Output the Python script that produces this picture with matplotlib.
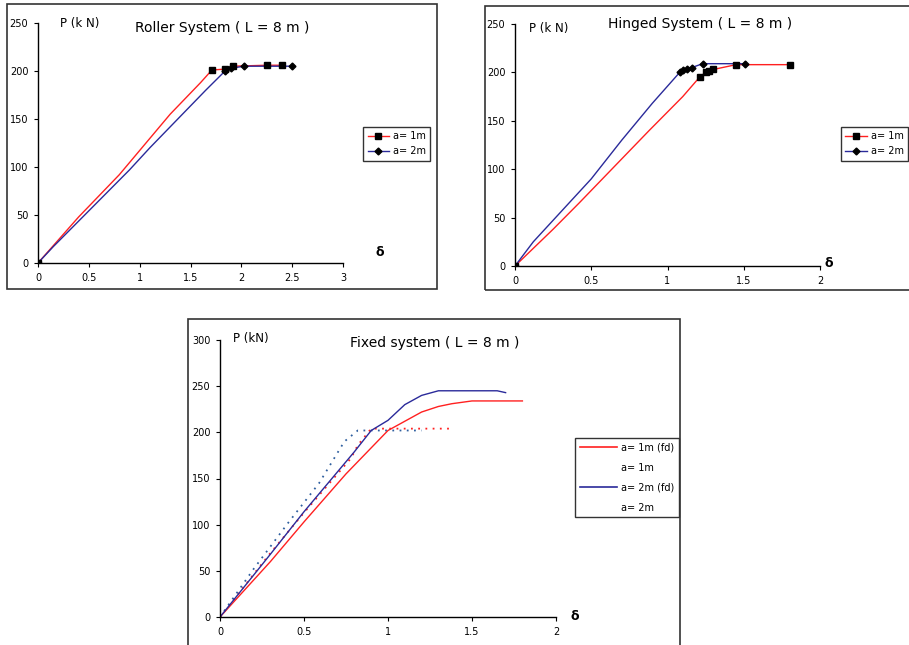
import matplotlib.pyplot as plt
from matplotlib.lines import Line2D
from matplotlib.patches import Rectangle

# ---------------------------------------------------------------------------
# Data (delta, P in kN)
# ---------------------------------------------------------------------------

# Roller system
roller_a1_d = [0, 0.15, 0.4, 0.8, 1.3, 1.6, 1.71, 1.84, 1.92, 2.25, 2.40]
roller_a1_p = [0, 18, 48, 92, 155, 188, 201, 202, 205, 206, 206]
roller_a1_mark = [0, 6, 7, 8, 9, 10]
roller_a2_d = [0, 0.15, 0.6, 0.9, 1.1, 1.65, 1.84, 1.90, 2.03, 2.50]
roller_a2_p = [0, 17, 65, 97, 120, 180, 200, 203, 205, 205]
roller_a2_mark = [0, 6, 7, 8, 9]

# Hinged system
hinged_a1_d = [0, 0.25, 0.42, 0.88, 1.10, 1.21, 1.25, 1.27, 1.30, 1.45, 1.80]
hinged_a1_p = [0, 38, 65, 140, 175, 195, 200, 201, 203, 208, 208]
hinged_a1_mark = [0, 5, 6, 7, 8, 9, 10]
hinged_a2_d = [0, 0.12, 0.5, 0.7, 0.9, 1.08, 1.10, 1.13, 1.16, 1.23, 1.51]
hinged_a2_p = [0, 25, 90, 130, 168, 200, 202, 204, 205, 209, 209]
hinged_a2_mark = [0, 5, 6, 7, 8, 9, 10]

# Fixed system
fixed_a1_fd_d = [0, 0.3, 0.5, 0.75, 1.0, 1.1, 1.2, 1.3, 1.38, 1.5, 1.8]
fixed_a1_fd_p = [0, 60, 103, 155, 202, 212, 222, 228, 231, 234, 234]
fixed_a2_fd_d = [0, 0.3, 0.5, 0.8, 0.9, 1.0, 1.1, 1.2, 1.3, 1.65, 1.7]
fixed_a2_fd_p = [0, 68, 114, 179, 202, 213, 230, 240, 245, 245, 243]
fixed_a1_d = [0, 0.29, 0.5, 0.78, 0.82, 0.9, 1.38]
fixed_a1_p = [0, 67, 113, 172, 186, 204, 204]
fixed_a2_d = [0, 0.2, 0.41, 0.59, 0.74, 0.82, 1.2]
fixed_a2_p = [0, 52, 103, 145, 190, 202, 202]

RED = "#ff2020"
BLUE = "#2a2a9a"

W, H = 909, 645


def px_axes(fig, left, top, right, bottom):
    return fig.add_axes([left / W, 1 - bottom / H, (right - left) / W, (bottom - top) / H])


def frame(fig, left, top, right, bottom):
    fig.patches.append(Rectangle((left / W, 1 - bottom / H), (right - left) / W,
                                 (bottom - top) / H, transform=fig.transFigure,
                                 fill=False, edgecolor="#333333", linewidth=1.2))


def style_axes(ax, xmax, xticks, ymax, yticks, xlabels):
    ax.set_xlim(0, xmax)
    ax.set_ylim(0, ymax)
    ax.set_xticks(xticks)
    ax.set_xticklabels(xlabels)
    ax.set_yticks(yticks)
    for s in ["top", "right"]:
        ax.spines[s].set_visible(False)
    for s in ["left", "bottom"]:
        ax.spines[s].set_linewidth(1.0)
    ax.tick_params(direction="out", length=3, width=0.8, labelsize=7, pad=4)
    ax.patch.set_alpha(0)


def plot_marked(ax, d, p, idx, color, marker, ms):
    ax.plot(d, p, color=color, linewidth=1.0, zorder=2)
    ax.plot([d[i] for i in idx], [p[i] for i in idx], linestyle="none",
            marker=marker, color="black", markersize=ms, zorder=3)


def boxed_legend(ax, handles, labels, anchor, **kw):
    leg = ax.legend(handles, labels, loc="upper left", bbox_to_anchor=anchor,
                    borderaxespad=0, fontsize=7, frameon=True, fancybox=False,
                    edgecolor="black", borderpad=0.45, handletextpad=0.4, **kw)
    leg.get_frame().set_linewidth(1.0)
    return leg


fig = plt.figure(figsize=(W / 100, H / 100), dpi=100)

h1 = [Line2D([], [], color=RED, marker="s", mfc="black", mec="black", ms=4, lw=1),
      Line2D([], [], color=BLUE, marker="D", mfc="black", mec="black", ms=3.5, lw=1)]

# ---------------------------------------------------------------------------
# Roller system
# ---------------------------------------------------------------------------
frame(fig, 7, 4, 437, 289)
ax1 = px_axes(fig, 38, 23, 343, 263)
plot_marked(ax1, roller_a1_d, roller_a1_p, roller_a1_mark, RED, "s", 4)
plot_marked(ax1, roller_a2_d, roller_a2_p, roller_a2_mark, BLUE, "D", 3.5)
style_axes(ax1, 3, [0, 0.5, 1, 1.5, 2, 2.5, 3], 250, range(0, 251, 50),
           ["0", "0.5", "1", "1.5", "2", "2.5", "3"])
ax1.text(0.138, 1.0, "P (k N)", transform=ax1.transAxes, fontsize=8.5,
         ha="center", va="center")
ax1.text(0.603, 0.98, "Roller System ( L = 8 m )", transform=ax1.transAxes,
         fontsize=10, ha="center", va="center")
ax1.text(1.12, 0.045, "δ", transform=ax1.transAxes, fontsize=9,
         fontweight="bold", ha="center", va="center")
boxed_legend(ax1, h1, ["a= 1m", "a= 2m"], (1.066, 0.567),
             handlelength=2.2, labelspacing=0.5)

# ---------------------------------------------------------------------------
# Hinged system
# ---------------------------------------------------------------------------
frame(fig, 485, 6, 930, 290)
ax2 = px_axes(fig, 515, 24, 820, 266)
plot_marked(ax2, hinged_a1_d, hinged_a1_p, hinged_a1_mark, RED, "s", 4)
plot_marked(ax2, hinged_a2_d, hinged_a2_p, hinged_a2_mark, BLUE, "D", 3.5)
style_axes(ax2, 2, [0, 0.5, 1, 1.5, 2], 250, range(0, 251, 50),
           ["0", "0.5", "1", "1.5", "2"])
ax2.text(0.11, 0.98, "P (k N)", transform=ax2.transAxes, fontsize=8.5,
         ha="center", va="center")
ax2.text(0.607, 1.0, "Hinged System ( L = 8 m )", transform=ax2.transAxes,
         fontsize=10, ha="center", va="center")
ax2.text(1.03, 0.01, "δ", transform=ax2.transAxes, fontsize=9,
         fontweight="bold", ha="center", va="center", clip_on=False)
boxed_legend(ax2, h1, ["a= 1m", "a= 2m"], (1.069, 0.574),
             handlelength=2.2, labelspacing=0.5)

# ---------------------------------------------------------------------------
# Fixed system
# ---------------------------------------------------------------------------
frame(fig, 188, 319, 680, 660)
ax3 = px_axes(fig, 220, 340, 556, 617)
ax3.plot(fixed_a1_d, fixed_a1_p, color=RED, linestyle=(0, (1, 3)), linewidth=1.3)
ax3.plot(fixed_a2_d, fixed_a2_p, color="#3060a0", linestyle=(0, (1, 3)), linewidth=1.3)
ax3.plot(fixed_a1_fd_d, fixed_a1_fd_p, color=RED, linewidth=1.0)
ax3.plot(fixed_a2_fd_d, fixed_a2_fd_p, color=BLUE, linewidth=1.0)
style_axes(ax3, 2, [0, 0.5, 1, 1.5, 2], 300, range(0, 301, 50),
           ["0", "0.5", "1", "1.5", "2"])
ax3.text(0.092, 1.007, "P (kN)", transform=ax3.transAxes, fontsize=8.5,
         ha="center", va="center")
ax3.text(0.64, 0.99, "Fixed system ( L = 8 m )", transform=ax3.transAxes,
         fontsize=10, ha="center", va="center")
ax3.text(1.055, 0.0, "δ", transform=ax3.transAxes, fontsize=9,
         fontweight="bold", ha="center", va="center", clip_on=False)
h3 = [Line2D([], [], color=RED, lw=1.2),
      Line2D([], [], color="none"),
      Line2D([], [], color=BLUE, lw=1.2),
      Line2D([], [], color="none")]
boxed_legend(ax3, h3, ["a= 1m (fd)", "a= 1m", "a= 2m (fd)", "a= 2m"],
             (1.057, 0.646), handlelength=3.9, labelspacing=1.05)

fig.savefig("out.png", dpi=100)
